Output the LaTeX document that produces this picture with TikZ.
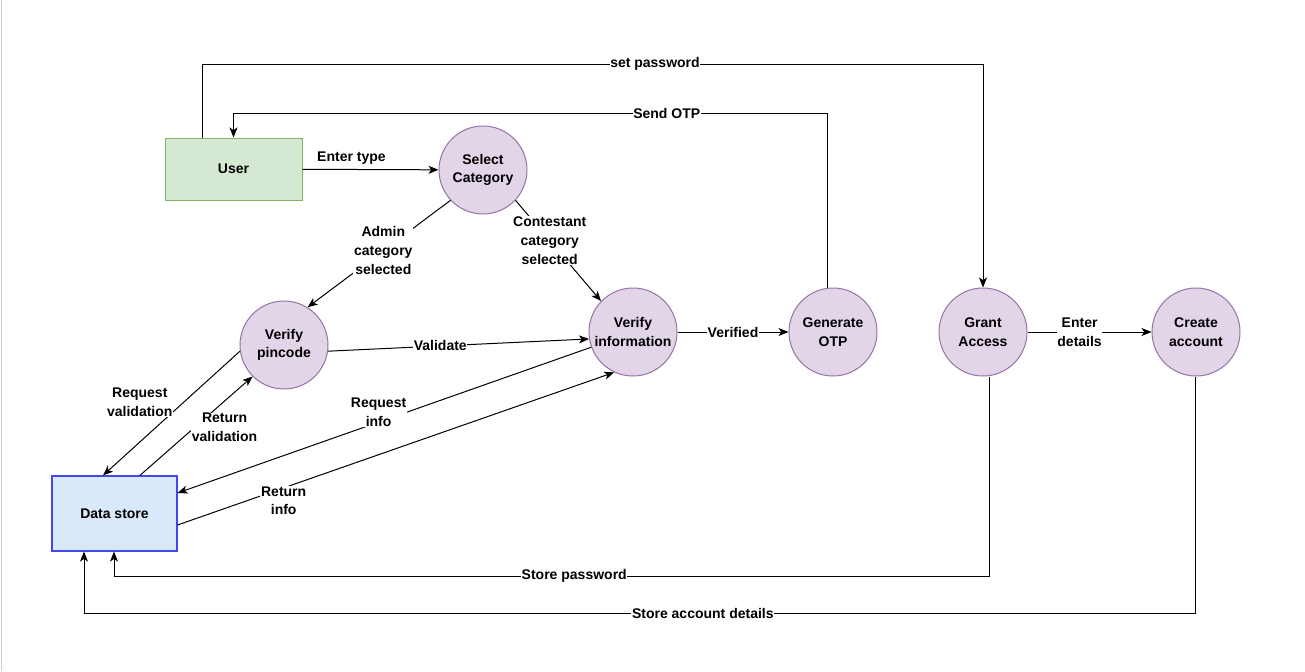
\documentclass[tikz,border=0pt]{standalone}
\usepackage{fontspec}
\setmainfont{Liberation Sans}
\usetikzlibrary{positioning, arrows.meta, calc}

\definecolor{userfill}{HTML}{D5E8D4}
\definecolor{userline}{HTML}{82B366}
\definecolor{storefill}{HTML}{DAE8FC}
\definecolor{storeline}{HTML}{4646F0}
\definecolor{procfill}{HTML}{E1D5E7}
\definecolor{procline}{HTML}{9673A6}

\newcommand{\dfdfont}{\fontsize{10.5}{14}\selectfont\bfseries}

\tikzset{
	proc/.style={circle, draw=procline, fill=procfill, minimum size=66pt, inner sep=0pt, align=center, font=\dfdfont, line width=0.75pt},
	entity/.style={rectangle, draw=userline, fill=userfill, minimum width=102.75pt, minimum height=46.5pt, font=\dfdfont, line width=0.75pt},
	datastore/.style={rectangle, draw=storeline, fill=storefill, minimum width=93.75pt, minimum height=56.25pt, font=\dfdfont, line width=0.9pt},
	flow/.style={draw=black, line width=0.75pt, -{Stealth[length=7.5pt, width=6pt, inset=2pt]}},
	lbl/.style={fill=white, inner sep=0.5pt, align=center, font=\dfdfont}
}

\begin{document}
\begin{tikzpicture}[x=0.75pt, y=-0.75pt]

					% Fix the page to the size of the reference
					\useasboundingbox (0,0) rectangle (1305,671);
					\draw[black!18, line width=1pt] (1.5,0) -- (1.5,671); % thin edge on the left
					
					% External entity and data store
					\node[entity] (user) at (233.5,169) {User};
					\node[datastore] (store) at (114.5,513.5) {Data store};
					
					% Processes
					\node[proc] (select) at (483,170) {Select\\Category};
					\node[proc] (pincode) at (284,345) {Verify\\pincode};
					\node[proc] (verify) at (633,332) {Verify\\information};
					\node[proc] (otp) at (833,332) {Generate\\OTP};
					\node[proc] (grant) at (983,332) {Grant\\Access};
					\node[proc] (account) at (1196,332) {Create\\account};
					
					% Corners of the routed flows
					\coordinate (pwA) at (202,64);
					\coordinate (pwB) at (983,64);
					\coordinate (otpA) at (827,113);
					\coordinate (otpB) at (233.5,113);
					\coordinate (spA) at (989,576);
					\coordinate (spB) at (114,576);
					\coordinate (saA) at (1195,613);
					\coordinate (saB) at (84,613);
					
					% Flows between the processes
					\draw[flow] (user) -- node[lbl, above=3pt, pos=0.36, fill=none] {Enter type} (select);
					\draw[flow] (select.223) -- node[lbl, pos=0.47] {Admin\\category\\selected} (pincode.58);
					\draw[flow] (select.317) -- node[lbl, pos=0.4] {Contestant\\category\\selected} (verify.136);
					\draw[flow] (pincode.352) -- node[lbl, pos=0.43] {Validate} (verify.189);
					\draw[flow] (verify) -- node[lbl] {Verified} (otp);
					\draw[flow] (grant) -- node[lbl, pos=0.42] {Enter\\details} (account);
					
					% Flows to and from the data store
					\draw[flow] (pincode.188) -- node[lbl, pos=0.41, xshift=-33pt] {Request\\validation} ([xshift=-8.6pt]store.north);
					\draw[flow] ([xshift=19.1pt]store.north) -- node[lbl, pos=0.485, xshift=22.5pt] {Return\\validation} (pincode.225);
					\draw[flow] (verify.200) -- node[lbl, pos=0.514, yshift=7.5pt] {Request\\info} ([yshift=15.4pt]store.east);
					\draw[flow] ([yshift=-8.6pt]store.east) -- node[lbl, pos=0.243, yshift=-9.75pt] {Return\\info} (verify.245);
					
					% Routed flows round the top and the bottom
					\draw[flow] (user.north -| pwA) -- (pwA) -- node[lbl, pos=0.58] {set password} (pwB) -- (grant.north);
					\draw[flow] (otp.north -| otpA) -- (otpA) -- node[lbl, pos=0.27] {Send OTP} (otpB) -- (user.north);
					\draw[flow] (grant.south -| spA) -- (spA) -- node[lbl, pos=0.474] {Store password} (spB) -- (store.south -| spB);
					\draw[flow] (account.south -| saA) -- (saA) -- node[lbl, pos=0.443] {Store account details} (saB) -- (store.south -| saB);
					
				\end{tikzpicture}
\end{document}
